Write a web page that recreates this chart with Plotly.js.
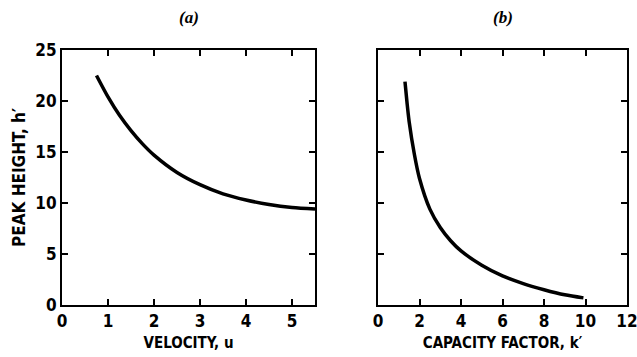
<!DOCTYPE html>
<html>
<head>
<meta charset="utf-8">
<script src="https://cdn.plot.ly/plotly-3.0.1.min.js"></script>
<style>html,body{margin:0;padding:0;background:#fff}#chart{width:637px;height:357px}</style>
</head>
<body>
<div id="chart"></div>
<script>
// Panel (a): peak height vs velocity
const velocity = [0.75, 1.0, 1.25, 1.5, 1.75, 2.0, 2.5, 3.0, 3.5, 4.0, 4.5, 5.0, 5.5];
const heightA = [22.5, 20.4, 18.6, 17.1, 15.8, 14.7, 13.0, 11.8, 10.9, 10.3, 9.85, 9.55, 9.4];
// Panel (b): peak height vs capacity factor
const capacity = [1.3, 1.4, 1.5, 1.75, 2.0, 2.5, 3.0, 3.5, 4.0, 5.0, 6.0, 7.0, 8.0, 9.0, 9.9];
const heightB = [21.9, 19.8, 18.0, 14.8, 12.4, 9.4, 7.6, 6.3, 5.3, 3.9, 2.85, 2.1, 1.5, 1.0, 0.7];

const xTicksA = [0, 1, 2, 3, 4, 5];
const xTicksB = [0, 2, 4, 6, 8, 10, 12];
const yTicks = [0, 5, 10, 15, 20, 25];

const FONT = "'Liberation Sans Narrow', 'DejaVu Sans Condensed', 'Arial Narrow', sans-serif";
const tickFont = {family: FONT, size: 17, color: '#000', weight: 'bold'};
const titleFont = {family: FONT, size: 15, color: '#000', weight: 'bold'};
const yTitleFont = {family: FONT, size: 17, color: '#000', weight: 'bold'};

const axisCommon = {
  showline: true, linewidth: 2, linecolor: '#000', mirror: 'ticks',
  ticks: 'inside', ticklen: 6, tickwidth: 2, tickcolor: '#000',
  showgrid: false, zeroline: false, tickfont: tickFont, fixedrange: true,
  ticklabeloverflow: 'allow'
};

const traces = [
  {x: velocity, y: heightA, mode: 'lines', line: {color: '#000', width: 3.5, shape: 'spline', smoothing: 0.8}, xaxis: 'x', yaxis: 'y', hoverinfo: 'skip'},
  {x: capacity, y: heightB, mode: 'lines', line: {color: '#000', width: 3.5, shape: 'spline', smoothing: 0.8}, xaxis: 'x2', yaxis: 'y2', hoverinfo: 'skip'}
];

const annFont = {family: "'Liberation Serif', 'DejaVu Serif', serif", size: 17, color: '#000', style: 'italic', weight: 'bold'};

const layout = {
  width: 637, height: 357,
  margin: {l: 62, r: 10, t: 50, b: 52},
  paper_bgcolor: '#fff', plot_bgcolor: '#fff',
  showlegend: false,
  xaxis: Object.assign({}, axisCommon, {
    domain: [0, 0.4478], range: [0, 5.5], tickvals: xTicksA, ticktext: xTicksA.map(String),
    title: {text: 'VELOCITY, u', font: titleFont, standoff: 7}
  }),
  yaxis: Object.assign({}, axisCommon, {
    range: [0, 25], tickvals: yTicks, ticktext: yTicks.map(String),
    title: {text: 'PEAK HEIGHT, h′', font: yTitleFont, standoff: 5}
  }),
  xaxis2: Object.assign({}, axisCommon, {
    domain: [0.5593, 1], range: [0, 12], tickvals: xTicksB, ticktext: xTicksB.map(String),
    anchor: 'y2',
    title: {text: 'CAPACITY FACTOR, k′', font: titleFont, standoff: 7}
  }),
  yaxis2: Object.assign({}, axisCommon, {
    range: [0, 25], tickvals: yTicks, showticklabels: false, anchor: 'x2'
  }),
  annotations: [
    {text: '(a)', xref: 'paper', yref: 'paper', x: 0.2239, y: 1.0, yshift: 33, xanchor: 'center', yanchor: 'middle', showarrow: false, font: annFont},
    {text: '(b)', xref: 'paper', yref: 'paper', x: 0.7797, y: 1.0, yshift: 33, xanchor: 'center', yanchor: 'middle', showarrow: false, font: annFont}
  ]
};

Plotly.newPlot('chart', traces, layout, {displayModeBar: false, staticPlot: true});
</script>
</body>
</html>
